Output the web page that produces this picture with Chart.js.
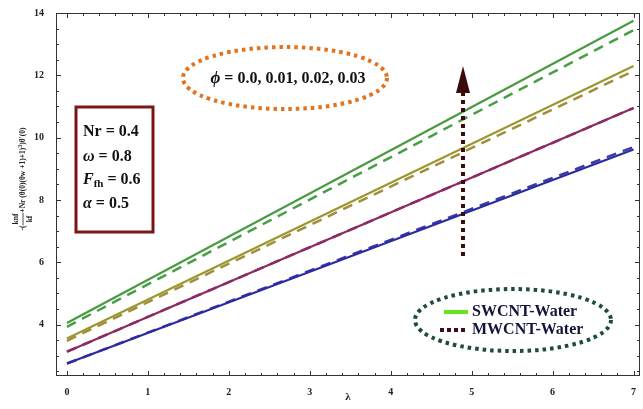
<!DOCTYPE html>
<html lang="en">
<head>
<meta charset="UTF-8">
<title>Heat transfer rate vs lambda</title>
<script src="https://cdn.jsdelivr.net/npm/chart.js"></script>
<style>
  body { margin: 0; background: #fff; }
</style>
</head>
<body>
<canvas id="nuChart" width="643" height="409"></canvas>
<script>
const lambdaVals = [0, 7];

// SWCNT-Water (solid lines), one per phi = 0.0, 0.01, 0.02, 0.03
const swcntPhi00 = [2.75, 9.62];
const swcntPhi01 = [3.13, 10.95];
const swcntPhi02 = [3.55, 12.30];
const swcntPhi03 = [4.05, 13.75];

// MWCNT-Water (dashed lines)
const mwcntPhi00 = [2.75, 9.70];
const mwcntPhi01 = [3.13, 10.95];
const mwcntPhi02 = [3.48, 12.14];
const mwcntPhi03 = [3.93, 13.45];

const phiLabels = ['0.0', '0.01', '0.02', '0.03'];
const xTickVals = [0, 1, 2, 3, 4, 5, 6, 7];
const yTickVals = [4, 6, 8, 10, 12, 14];

const solidColors = ['#2b2b9e', '#8c2a64', '#9b972f', '#4a9a42'];
const dashColors = ['#3a3aaa', '#8c2a64', '#a38d3a', '#45a043'];

const swSeries = [swcntPhi00, swcntPhi01, swcntPhi02, swcntPhi03];
const mwSeries = [mwcntPhi00, mwcntPhi01, mwcntPhi02, mwcntPhi03];

function toPoints(vals) {
  return lambdaVals.map((x, i) => ({ x: x, y: vals[i] }));
}

const datasets = [];
swSeries.forEach((s, i) => {
  datasets.push({
    label: 'SWCNT ' + phiLabels[i],
    data: toPoints(s),
    borderColor: solidColors[i],
    borderWidth: 2.2,
    pointRadius: 0,
    fill: false
  });
});
mwSeries.forEach((s, i) => {
  datasets.push({
    label: 'MWCNT ' + phiLabels[i],
    data: toPoints(s),
    borderColor: dashColors[i],
    borderWidth: 2.5,
    borderDash: [10, 7],
    pointRadius: 0,
    fill: false
  });
});

const SERIF = '"Liberation Serif", "DejaVu Serif", serif';

// draw several font runs on one line
function runsWidth(ctx, runs) {
  let w = 0;
  runs.forEach(r => { ctx.font = r.font; w += ctx.measureText(r.t).width; });
  return w;
}
function drawRuns(ctx, x, y, runs) {
  runs.forEach(r => {
    ctx.font = r.font;
    ctx.fillText(r.t, x, y + (r.dy || 0));
    x += ctx.measureText(r.t).width;
  });
  return x;
}

function dottedEllipse(ctx, cx, cy, rx, ry, color) {
  ctx.save();
  ctx.strokeStyle = color;
  ctx.lineWidth = 4;
  ctx.setLineDash([3.5, 4]);
  ctx.beginPath();
  ctx.ellipse(cx, cy, rx, ry, 0, 0, Math.PI * 2);
  ctx.stroke();
  ctx.restore();
}

const framePlugin = {
  id: 'frame',
  beforeDatasetsDraw(chart) {
    const { ctx, chartArea: a, scales: { x, y } } = chart;
    ctx.save();
    ctx.strokeStyle = '#333';
    ctx.lineWidth = 1;
    ctx.strokeRect(a.left + 0.5, a.top + 0.5, a.right - a.left - 1, a.bottom - a.top - 1);
    ctx.beginPath();
    for (let k = 0; k <= 35; k++) {
      const px = Math.round(x.getPixelForValue(k * 0.2)) + 0.5;
      const len = k % 5 === 0 ? 5 : 3;
      ctx.moveTo(px, a.bottom); ctx.lineTo(px, a.bottom - len);
      ctx.moveTo(px, a.top); ctx.lineTo(px, a.top + len);
    }
    for (let k = 5; k <= 28; k++) {
      const v = k * 0.5;
      const py = Math.round(y.getPixelForValue(v)) + 0.5;
      const len = v % 2 === 0 ? 5 : 3;
      ctx.moveTo(a.left, py); ctx.lineTo(a.left + len, py);
      ctx.moveTo(a.right, py); ctx.lineTo(a.right - len, py);
    }
    ctx.stroke();
    ctx.restore();
  },
  afterDraw(chart) {
    const ctx = chart.ctx;
    ctx.save();
    ctx.textBaseline = 'middle';

    // parameter box
    ctx.strokeStyle = '#7b1616';
    ctx.lineWidth = 3;
    ctx.strokeRect(76, 107, 77, 125);
    ctx.fillStyle = '#111';
    const b = 'bold 16px ' + SERIF;
    const bi = 'italic bold 16px ' + SERIF;
    drawRuns(ctx, 83, 132, [{ t: 'Nr = 0.4', font: b }]);
    drawRuns(ctx, 83, 157, [{ t: 'ω', font: bi }, { t: ' = 0.8', font: b }]);
    drawRuns(ctx, 83, 180, [{ t: 'F', font: bi }, { t: 'fh', font: 'bold 11px ' + SERIF, dy: 4 }, { t: ' = 0.6', font: b }]);
    drawRuns(ctx, 83, 204, [{ t: 'α', font: bi }, { t: ' = 0.5', font: b }]);

    // phi ellipse
    dottedEllipse(ctx, 285, 78, 102, 31, '#e2741f');
    const phiRuns = [{ t: 'ϕ', font: 'italic bold 17px ' + SERIF }, { t: ' = ' + phiLabels.join(', '), font: b }];
    const pw = runsWidth(ctx, phiRuns);
    ctx.fillStyle = '#111';
    drawRuns(ctx, 288 - pw / 2, 79, phiRuns);

    // arrow
    ctx.strokeStyle = '#3b0a0a';
    ctx.fillStyle = '#3b0a0a';
    ctx.lineWidth = 4;
    ctx.setLineDash([4, 4]);
    ctx.beginPath();
    ctx.moveTo(463, 256); ctx.lineTo(463, 90);
    ctx.stroke();
    ctx.setLineDash([]);
    ctx.beginPath();
    ctx.moveTo(463, 66); ctx.lineTo(456, 93); ctx.lineTo(470, 93); ctx.closePath();
    ctx.fill();

    // legend
    dottedEllipse(ctx, 513, 320, 98, 31, '#1d4a42');
    ctx.lineWidth = 4;
    ctx.strokeStyle = '#66e61e';
    ctx.beginPath(); ctx.moveTo(444, 312); ctx.lineTo(468, 312); ctx.stroke();
    ctx.strokeStyle = '#3d0c1c';
    ctx.setLineDash([4, 3]);
    ctx.beginPath(); ctx.moveTo(440, 330); ctx.lineTo(468, 330); ctx.stroke();
    ctx.setLineDash([]);
    ctx.fillStyle = '#14143a';
    drawRuns(ctx, 472, 312, [{ t: 'SWCNT-Water', font: b }]);
    drawRuns(ctx, 472, 330, [{ t: 'MWCNT-Water', font: b }]);

    // y axis title
    ctx.translate(23, 179);
    ctx.rotate(-Math.PI / 2);
    ctx.fillStyle = '#222';
    const f = 'bold 7.5px ' + SERIF;
    const fs = 'bold 6px ' + SERIF;
    const rest = [
      { t: '+Nr (θ(0)(θw +1)+1)', font: f },
      { t: '3', font: fs, dy: -3 },
      { t: ')θ′(0)', font: f }
    ];
    ctx.font = f;
    const lead = ctx.measureText('-(').width;
    const fracW = Math.max(ctx.measureText('knf').width, ctx.measureText('kf').width) + 2;
    const total = lead + fracW + runsWidth(ctx, rest);
    let tx = -total / 2;
    ctx.font = f;
    ctx.fillText('-(', tx, 0);
    tx += lead;
    ctx.textAlign = 'center';
    ctx.fillText('knf', tx + fracW / 2, -7);
    ctx.fillText('kf', tx + fracW / 2, 7);
    ctx.textAlign = 'left';
    ctx.lineWidth = 0.8;
    ctx.strokeStyle = '#222';
    ctx.beginPath(); ctx.moveTo(tx, 0); ctx.lineTo(tx + fracW, 0); ctx.stroke();
    tx += fracW;
    drawRuns(ctx, tx, 0, rest);
    ctx.restore();
  }
};

new Chart(document.getElementById('nuChart'), {
  type: 'line',
  data: { datasets: datasets },
  options: {
    responsive: false,
    animation: false,
    layout: { padding: { top: 13, right: 3, left: 0, bottom: 0 } },
    plugins: { legend: { display: false }, tooltip: { enabled: false } },
    scales: {
      x: {
        type: 'linear',
        min: -0.135,
        max: 7.08,
        grid: { display: false },
        border: { display: false },
        afterBuildTicks: s => { s.ticks = xTickVals.map(v => ({ value: v })); },
        afterFit: s => { s.height = 33; },
        ticks: { color: '#222', font: { family: SERIF, size: 10, weight: 'bold' }, padding: 2, maxRotation: 0 },
        title: { display: true, text: 'λ', color: '#222', font: { family: SERIF, size: 11, weight: 'bold' }, padding: { top: 0, bottom: 5 } }
      },
      y: {
        min: 2.35,
        max: 14,
        grid: { display: false },
        border: { display: false },
        afterBuildTicks: s => { s.ticks = yTickVals.map(v => ({ value: v })); },
        afterFit: s => { s.width = 56; },
        ticks: { color: '#222', font: { family: SERIF, size: 10, weight: 'bold' }, padding: 4 }
      }
    }
  },
  plugins: [framePlugin]
});
</script>
</body>
</html>
